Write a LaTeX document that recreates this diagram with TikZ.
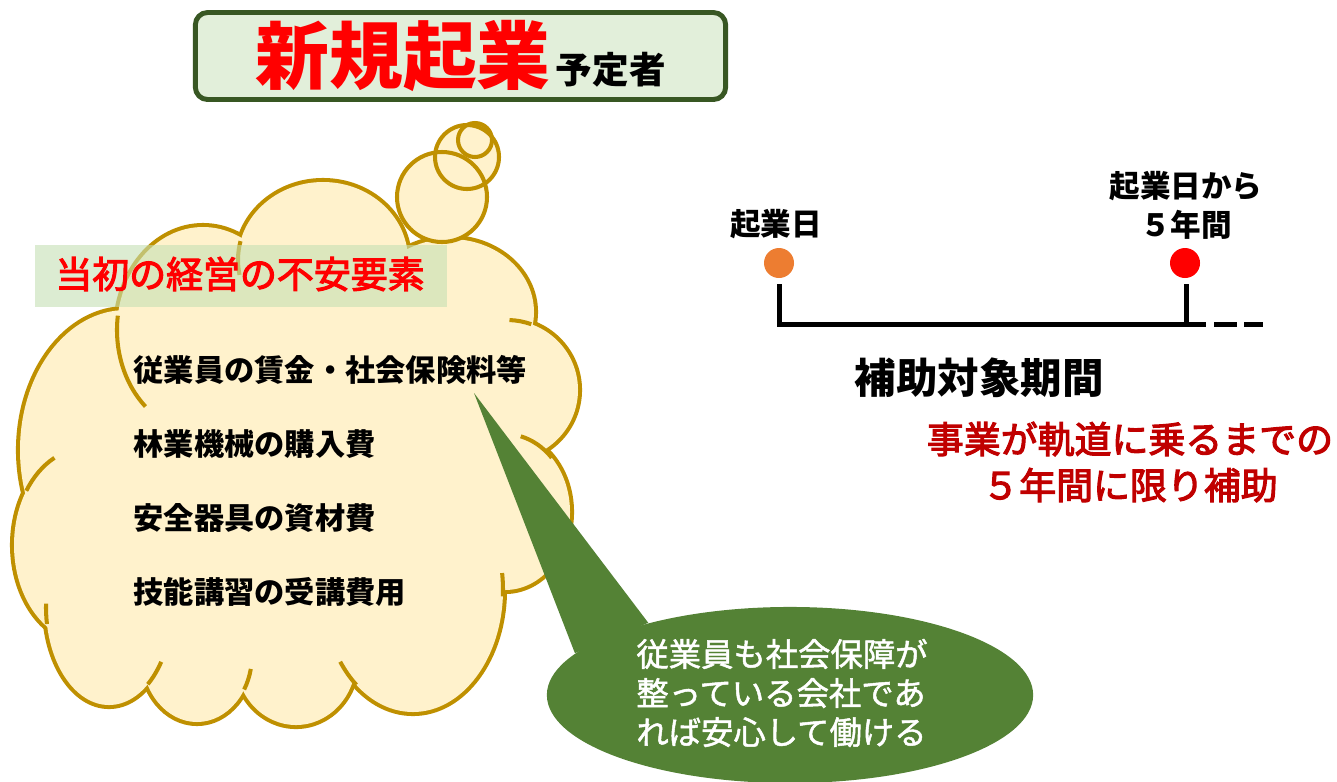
\documentclass[tikz,border=0pt]{standalone}
\usepackage{fontspec}
\setmainfont{Noto Sans CJK JP}
\newfontfamily\midfont{Noto Sans CJK JP}[FakeBold=3]
\newfontfamily\softfont{Noto Sans CJK JP}[FakeBold=1.5]
\usetikzlibrary{shapes.geometric}

\definecolor{cloudfill}{HTML}{FFF2CC}
\definecolor{cloudline}{HTML}{BF9000}
\definecolor{titlefill}{HTML}{E2EFDA}
\definecolor{titleline}{HTML}{385723}
\definecolor{bandfill}{HTML}{C5E0B4}
\definecolor{talkgreen}{HTML}{548235}
\definecolor{startorange}{HTML}{ED7D31}
\definecolor{darkred}{HTML}{C00000}

\tikzset{
  cloudpart/.style={fill=cloudfill, draw=cloudline, line width=2.3pt},
  cloudstub/.style={draw=cloudline, line width=1.15pt},
  costitem/.style={anchor=west, inner sep=0pt, font=\fontsize{8.6}{10}\selectfont\bfseries},
  daydot/.style={circle, inner sep=0pt, minimum size=0.3cm},
  period/.style={line width=1.42pt},
  marktext/.style={inner sep=0pt, align=center, font=\fontsize{8.7}{11.1}\selectfont\bfseries},
}

% bumps of the cloud: centre x/y, radius x/y
\def\cloudbumps{203/330/86/103, 323/260/85/78, 450/312/84/73, 507/390/71/70,
  505/512/65/78, 413/590/90/122, 296/660/60/65, 197/655/55/67,
  109/607/63/98, 86/545/72/97, 126/450/106/140}

\begin{document}
\begin{tikzpicture}[x=0.01cm, y=-0.01cm]
\useasboundingbox (0,0) rectangle (1337,781);

% title
\node[draw=titleline, line width=1.4pt, fill=titlefill, rounded corners=3.5pt,
  minimum width=5.3cm, minimum height=0.87cm, inner sep=0pt] (title) at (460.5,56)
  {{\fontsize{21}{21}\selectfont\bfseries\color{red}新規起業}\hspace{1.5pt}{\fontsize{10.4}{12}\selectfont\bfseries 予定者}};

% cloud: stroke every bump, fill again so only the rim stays
\foreach \cx/\cy/\rx/\ry in \cloudbumps
  \path[cloudpart] (\cx,\cy) ellipse[x radius=\rx, y radius=\ry];
\foreach \cx/\cy/\rx/\ry in \cloudbumps
  \fill[cloudfill] (\cx,\cy) ellipse[x radius=\rx, y radius=\ry];
\fill[cloudfill] (115,315) -- (245,248) -- (404,248) -- (528,323) -- (545,457)
  -- (500,588) -- (345,680) -- (243,685) -- (149,680) -- (50,620) -- (28,488) -- cycle;

% short inner ends of the bumps
\foreach \cx/\cy/\rx/\ry/\a/\b in {203/330/86/103/-172/-228, 323/260/85/78/-166/-191,
    507/390/71/70/-70/-88, 505/512/65/78/-44/-76, 413/590/90/122/3/-8,
    413/590/90/122/-231/-216, 197/655/55/67/31/12, 109/607/63/98/52/34,
    109/607/63/98/-190/-178, 86/545/72/97/-146/-116}
  \draw[cloudstub] ({\cx+\rx*cos(\a)}, {\cy+\ry*sin(\a)})
    arc[start angle=\a, end angle=\b, x radius=\rx, y radius=\ry];

% thought bubbles
\foreach \cx/\cy/\r in {442/197/45, 467/157/32, 475/140/17}
  \fill[cloudfill] (\cx,\cy) circle[radius=\r];
\foreach \cx/\cy/\r in {442/197/45, 467/157/32, 475/140/17}
  \draw[cloudstub] (\cx,\cy) circle[radius=\r];

% heading band
\fill[bandfill, opacity=0.6] (35,245) rectangle (447,307);
\node[text=red, font=\fontsize{10.5}{12}\midfont] (worries) at (240,274) {当初の経営の不安要素};

\foreach \t [count=\i] in {従業員の賃金・社会保険料等, 林業機械の購入費, 安全器具の資材費, 技能講習の受講費用}
  \node[costitem] (cost\i) at (133, {296+74*\i}) {\t};

% speech bubble
\node[ellipse, fill=talkgreen, minimum width=4.86cm, minimum height=1.76cm, inner sep=0pt] (talk) at (790,695) {};
\coordinate (tip) at (474,393);
\fill[talkgreen] (tip) -- (talk.169) -- (talk.153) -- cycle;
\node[text=white, align=left, inner sep=0pt, font=\fontsize{9.2}{11.1}\softfont] (talktext) at (782,693)
  {従業員も社会保障が\\整っている会社であ\\れば安心して働ける};

% timeline
\node[daydot, fill=startorange] (start) at (779,263) {};
\node[daydot, fill=red] (goal) at (1185,263) {};
\node[marktext] (startday) at (776,224) {起業日};
\node[marktext] (goalday) at (1186,205) {起業日から\\５年間};

\coordinate (starttick) at (779,284);
\coordinate (startbase) at (779,324);
\coordinate (goaltick) at (1186,284);
\coordinate (goalbase) at (1186,324);
\coordinate (runout) at (1206,324);
\coordinate (dashfrom) at (1214,324);
\coordinate (dashto) at (1263,324);
\draw[period] (starttick) -- (startbase) -- (runout);
\draw[period] (goaltick) -- (goalbase);
\draw[period, dash pattern=on 0.23cm off 0.07cm] (dashfrom) -- (dashto);

\node[font=\fontsize{11.8}{14}\selectfont\bfseries] (span) at (979,378) {補助対象期間};
\node[text=darkred, align=center, font=\fontsize{10.5}{13.1}\midfont] (note) at (1130,462)
  {事業が軌道に乗るまでの\\５年間に限り補助};

\end{tikzpicture}
\end{document}
